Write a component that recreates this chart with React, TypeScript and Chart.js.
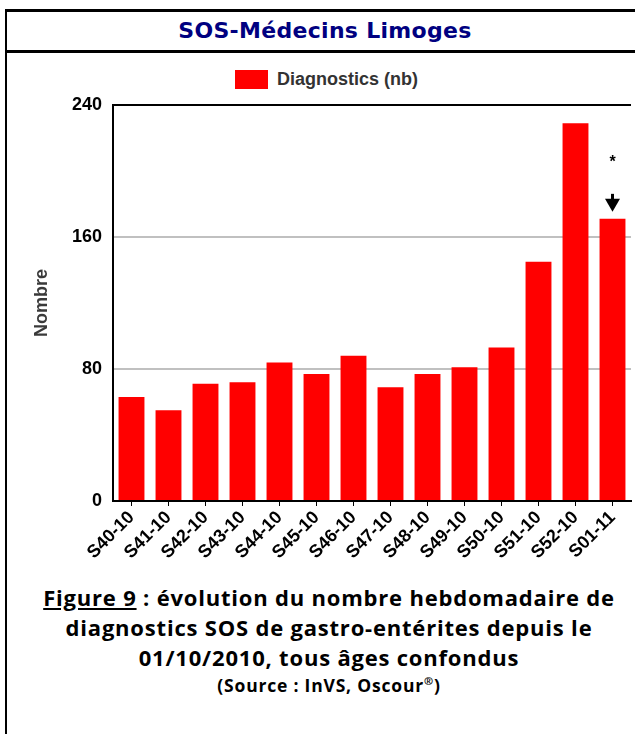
import React, { useEffect, useRef } from "react";
import { Chart, registerables } from "chart.js";

Chart.register(...registerables);

const weeks = [
  "S40-10", "S41-10", "S42-10", "S43-10", "S44-10", "S45-10", "S46-10",
  "S47-10", "S48-10", "S49-10", "S50-10", "S51-10", "S52-10", "S01-11",
];
const diagnostics = [63, 55, 71, 72, 84, 77, 88, 69, 77, 81, 93, 145, 229, 171];
const yTicks = [0, 80, 160, 240];
const seriesLabel = "Diagnostics (nb)";
const yTitle = "Nombre";
const chartTitle = "SOS-Médecins Limoges";
const annotatedIndex = 13;
const annotationMark = "*";

const CANVAS_FONT = "'Liberation Sans', Arial, sans-serif";
const HTML_FONT = "'Open Sans', 'Noto Sans', sans-serif";
const TITLE_FONT = "'DejaVu Sans', Verdana, sans-serif";

const arrowPlugin = {
  id: "arrowNote",
  afterDatasetsDraw(chart: any) {
    const meta = chart.getDatasetMeta(0);
    const bar = meta.data[annotatedIndex];
    if (!bar) return;
    const ctx = chart.ctx;
    const x = bar.x;
    const y = bar.y;
    ctx.save();
    ctx.fillStyle = "#000";
    ctx.strokeStyle = "#000";
    ctx.font = `bold 16px ${CANVAS_FONT}`;
    ctx.textAlign = "center";
    ctx.textBaseline = "alphabetic";
    ctx.fillText(annotationMark, x, y - 52);
    ctx.lineWidth = 3;
    ctx.beginPath();
    ctx.moveTo(x, y - 25);
    ctx.lineTo(x, y - 16);
    ctx.stroke();
    ctx.beginPath();
    ctx.moveTo(x - 7.5, y - 20);
    ctx.lineTo(x + 7.5, y - 20);
    ctx.lineTo(x, y - 7);
    ctx.closePath();
    ctx.fill();
    ctx.restore();
  },
};

export default function App() {
  const ref = useRef<HTMLCanvasElement | null>(null);

  useEffect(() => {
    if (!ref.current) return;
    const chart = new Chart(ref.current, {
      type: "bar",
      data: {
        labels: weeks,
        datasets: [
          {
            label: seriesLabel,
            data: diagnostics,
            backgroundColor: "#ff0000",
            borderWidth: 0,
            barPercentage: 0.7,
            categoryPercentage: 1,
          },
        ],
      },
      options: {
        responsive: false,
        animation: false,
        layout: { padding: { top: 50, right: 4, left: 0, bottom: 0 } },
        plugins: {
          legend: { display: false },
          tooltip: { enabled: false },
          title: { display: false },
        },
        scales: {
          x: {
            grid: {
              display: true,
              offset: false,
              drawOnChartArea: false,
              drawTicks: true,
              tickLength: 5,
              color: "#000",
              lineWidth: 1,
            },
            border: { display: true, color: "#000", width: 2 },
            ticks: {
              autoSkip: false,
              minRotation: 45,
              maxRotation: 45,
              padding: 1,
              color: "#000",
              font: { family: CANVAS_FONT, size: 18, weight: "bold" },
            },
            afterFit: (s: any) => {
              s.height = 79;
            },
          },
          y: {
            min: 0,
            max: 240,
            afterBuildTicks: (s: any) => {
              s.ticks = yTicks.map((v) => ({ value: v }));
            },
            grid: {
              color: (c: any) =>
                c.tick && c.tick.value === 240
                  ? "#000"
                  : c.tick && c.tick.value === 0
                  ? "rgba(0,0,0,0)"
                  : "#c0c0c0",
              lineWidth: 2,
              drawTicks: false,
            },
            border: { display: true, color: "#000", width: 2 },
            ticks: {
              padding: 11,
              color: "#000",
              font: { family: CANVAS_FONT, size: 18, weight: "bold" },
            },
            title: {
              display: true,
              text: yTitle,
              color: "#3a3a3a",
              font: { family: CANVAS_FONT, size: 18, weight: "bold" },
              padding: { top: 31, bottom: 0 },
            },
            afterFit: (s: any) => {
              s.width = 113;
            },
          },
        },
      },
      plugins: [arrowPlugin],
    } as any);
    return () => chart.destroy();
  }, []);

  return (
    <div
      style={{
        position: "fixed",
        left: 0,
        top: 0,
        width: 635,
        height: 734,
        background: "#fff",
        overflow: "hidden",
      }}
    >
      {/* frame lines */}
      <div style={{ position: "absolute", left: 5, top: 9, width: 640, height: 3, background: "#000" }} />
      <div style={{ position: "absolute", left: 5, top: 50, width: 640, height: 3, background: "#000" }} />
      <div style={{ position: "absolute", left: 5, top: 9, width: 2, height: 740, background: "#000" }} />

      <div
        style={{
          position: "absolute",
          left: 7,
          width: 636,
          top: 19.5,
          textAlign: "center",
          fontFamily: TITLE_FONT,
          fontWeight: 700,
          fontSize: 22,
          lineHeight: "22px",
          letterSpacing: "0.3px",
          color: "#000080",
          whiteSpace: "nowrap",
        }}
      >
        {chartTitle}
      </div>

      {/* legend */}
      <div style={{ position: "absolute", left: 235, top: 70, width: 33, height: 19, background: "#ff0000" }} />
      <div
        style={{
          position: "absolute",
          left: 277,
          top: 69,
          height: 21,
          lineHeight: "21px",
          fontFamily: CANVAS_FONT,
          fontWeight: 700,
          fontSize: 18,
          color: "#333",
          whiteSpace: "nowrap",
        }}
      >
        {seriesLabel}
      </div>

      <canvas
        ref={ref}
        width={635}
        height={525}
        style={{ position: "absolute", left: 0, top: 55, width: 635, height: 525 }}
      />

      <div
        style={{
          position: "absolute",
          left: 7,
          width: 644,
          top: 582,
          textAlign: "center",
          fontFamily: HTML_FONT,
          fontWeight: 700,
          color: "#000",
        }}
      >
        <div style={{ fontSize: 22, lineHeight: "30px", letterSpacing: "0.8px" }}>
          <span style={{ textDecoration: "underline" }}>Figure 9</span> : évolution du nombre hebdomadaire de
          <br />
          diagnostics SOS de gastro-entérites depuis le
          <br />
          01/10/2010, tous âges confondus
        </div>
        <div style={{ fontSize: 17.5, lineHeight: "26px", letterSpacing: "0.8px" }}>
          (Source : InVS, Oscour<sup style={{ fontSize: 11, lineHeight: 0 }}>®</sup>)
        </div>
      </div>
    </div>
  );
}
